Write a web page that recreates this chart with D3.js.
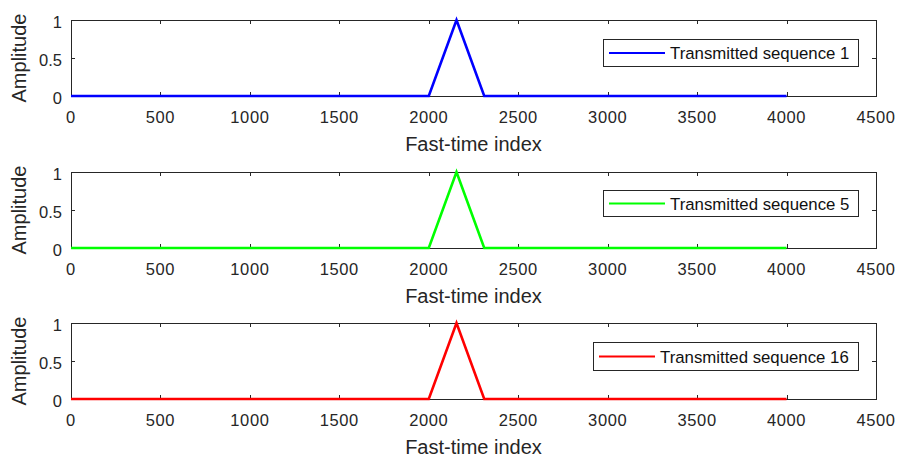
<!DOCTYPE html>
<html>
<head>
<meta charset="utf-8">
<script src="https://cdn.jsdelivr.net/npm/d3@7"></script>
<style>
  body { margin: 0; background: #fff; }
  svg { display: block; font-family: "Liberation Sans", Arial, sans-serif; }
</style>
</head>
<body>
<svg id="chart" width="900" height="457"></svg>
<script>
// Triangular pulse shape of each transmitted sequence (fast-time index, amplitude)
const pulseIndex = [0, 2000, 2155, 2310, 4000];
const pulseAmp1 = [0, 0, 1, 0, 0];
const pulseAmp5 = [0, 0, 1, 0, 0];
const pulseAmp16 = [0, 0, 1, 0, 0];

const seriesNames = ["Transmitted sequence 1", "Transmitted sequence 5", "Transmitted sequence 16"];
const seriesColors = ["#0000ff", "#00ff00", "#ff0000"];
const seriesAmps = [pulseAmp1, pulseAmp5, pulseAmp16];

const xTicks = [0, 500, 1000, 1500, 2000, 2500, 3000, 3500, 4000, 4500];
const yTicks = [0, 0.5, 1];
const xLabel = "Fast-time index";
const yLabel = "Amplitude";

const svg = d3.select("#chart");
const left = 71, right = 876, plotH = 76;
const panelTops = [20, 172, 323];
const legendBoxes = [
  { x0: 603, x1: 858, y0: 39, y1: 66 },
  { x0: 603, x1: 858, y0: 190, y1: 216 },
  { x0: 593, x1: 858, y0: 342, y1: 370 }
];
const axisColor = "#262626";
const tickLen = 4;

const x = d3.scaleLinear().domain([0, 4500]).range([left, right]);

panelTops.forEach((top, i) => {
  const y = d3.scaleLinear().domain([0, 1]).range([top + plotH, top]);
  const g = svg.append("g");

  const pts = pulseIndex.map((v, k) => [v, seriesAmps[i][k]]);
  const line = d3.line().x(d => x(d[0])).y(d => y(d[1]));

  // axes box
  g.append("rect")
    .attr("x", left + 0.5).attr("y", top + 0.5)
    .attr("width", right - left).attr("height", plotH)
    .attr("fill", "none").attr("stroke", axisColor).attr("stroke-width", 1);

  // x ticks, drawn inward on bottom and top edges
  xTicks.forEach(t => {
    const px = Math.round(x(t)) + 0.5;
    g.append("line").attr("x1", px).attr("x2", px)
      .attr("y1", top + plotH).attr("y2", top + plotH - tickLen)
      .attr("stroke", axisColor);
    g.append("line").attr("x1", px).attr("x2", px)
      .attr("y1", top).attr("y2", top + tickLen)
      .attr("stroke", axisColor);
    g.append("text").attr("x", x(t)).attr("y", top + plotH + 27)
      .attr("text-anchor", "middle").attr("font-size", 16.5)
      .attr("letter-spacing", 0.6)
      .attr("fill", axisColor).text(d3.format("d")(t));
  });
  // y ticks on left and right edges
  yTicks.forEach(t => {
    const py = Math.round(y(t)) + 0.5;
    g.append("line").attr("x1", left).attr("x2", left + tickLen)
      .attr("y1", py).attr("y2", py).attr("stroke", axisColor);
    g.append("line").attr("x1", right).attr("x2", right - tickLen)
      .attr("y1", py).attr("y2", py).attr("stroke", axisColor);
    g.append("text").attr("x", left - 9).attr("y", y(t) + 7.5)
      .attr("text-anchor", "end").attr("font-size", 16.5)
      .attr("fill", axisColor).text(t);
  });

  g.append("path").datum(pts).attr("d", line)
    .attr("fill", "none").attr("stroke", seriesColors[i]).attr("stroke-width", 2.6)
    .attr("stroke-linejoin", "miter");

  // axis labels
  g.append("text").attr("x", x(2250)).attr("y", top + plotH + 54.5)
    .attr("text-anchor", "middle").attr("font-size", 20)
    .attr("fill", axisColor).text(xLabel);
  g.append("text")
    .attr("transform", `translate(26,${top + plotH / 2}) rotate(-90)`)
    .attr("text-anchor", "middle").attr("font-size", 20)
    .attr("fill", axisColor).text(yLabel);

  // legend
  const lb = legendBoxes[i];
  g.append("rect").attr("x", lb.x0 + 0.5).attr("y", lb.y0 + 0.5)
    .attr("width", lb.x1 - lb.x0).attr("height", lb.y1 - lb.y0)
    .attr("fill", "#fff").attr("stroke", axisColor).attr("stroke-width", 1);
  const ly = (lb.y0 + lb.y1) / 2 + 0.5;
  g.append("line").attr("x1", lb.x0 + 6).attr("x2", lb.x0 + 62)
    .attr("y1", ly).attr("y2", ly)
    .attr("stroke", seriesColors[i]).attr("stroke-width", 2);
  g.append("text").attr("x", lb.x0 + 67).attr("y", ly + 6.3)
    .attr("font-size", 16.8).attr("fill", "#111").text(seriesNames[i]);
});
</script>
</body>
</html>
